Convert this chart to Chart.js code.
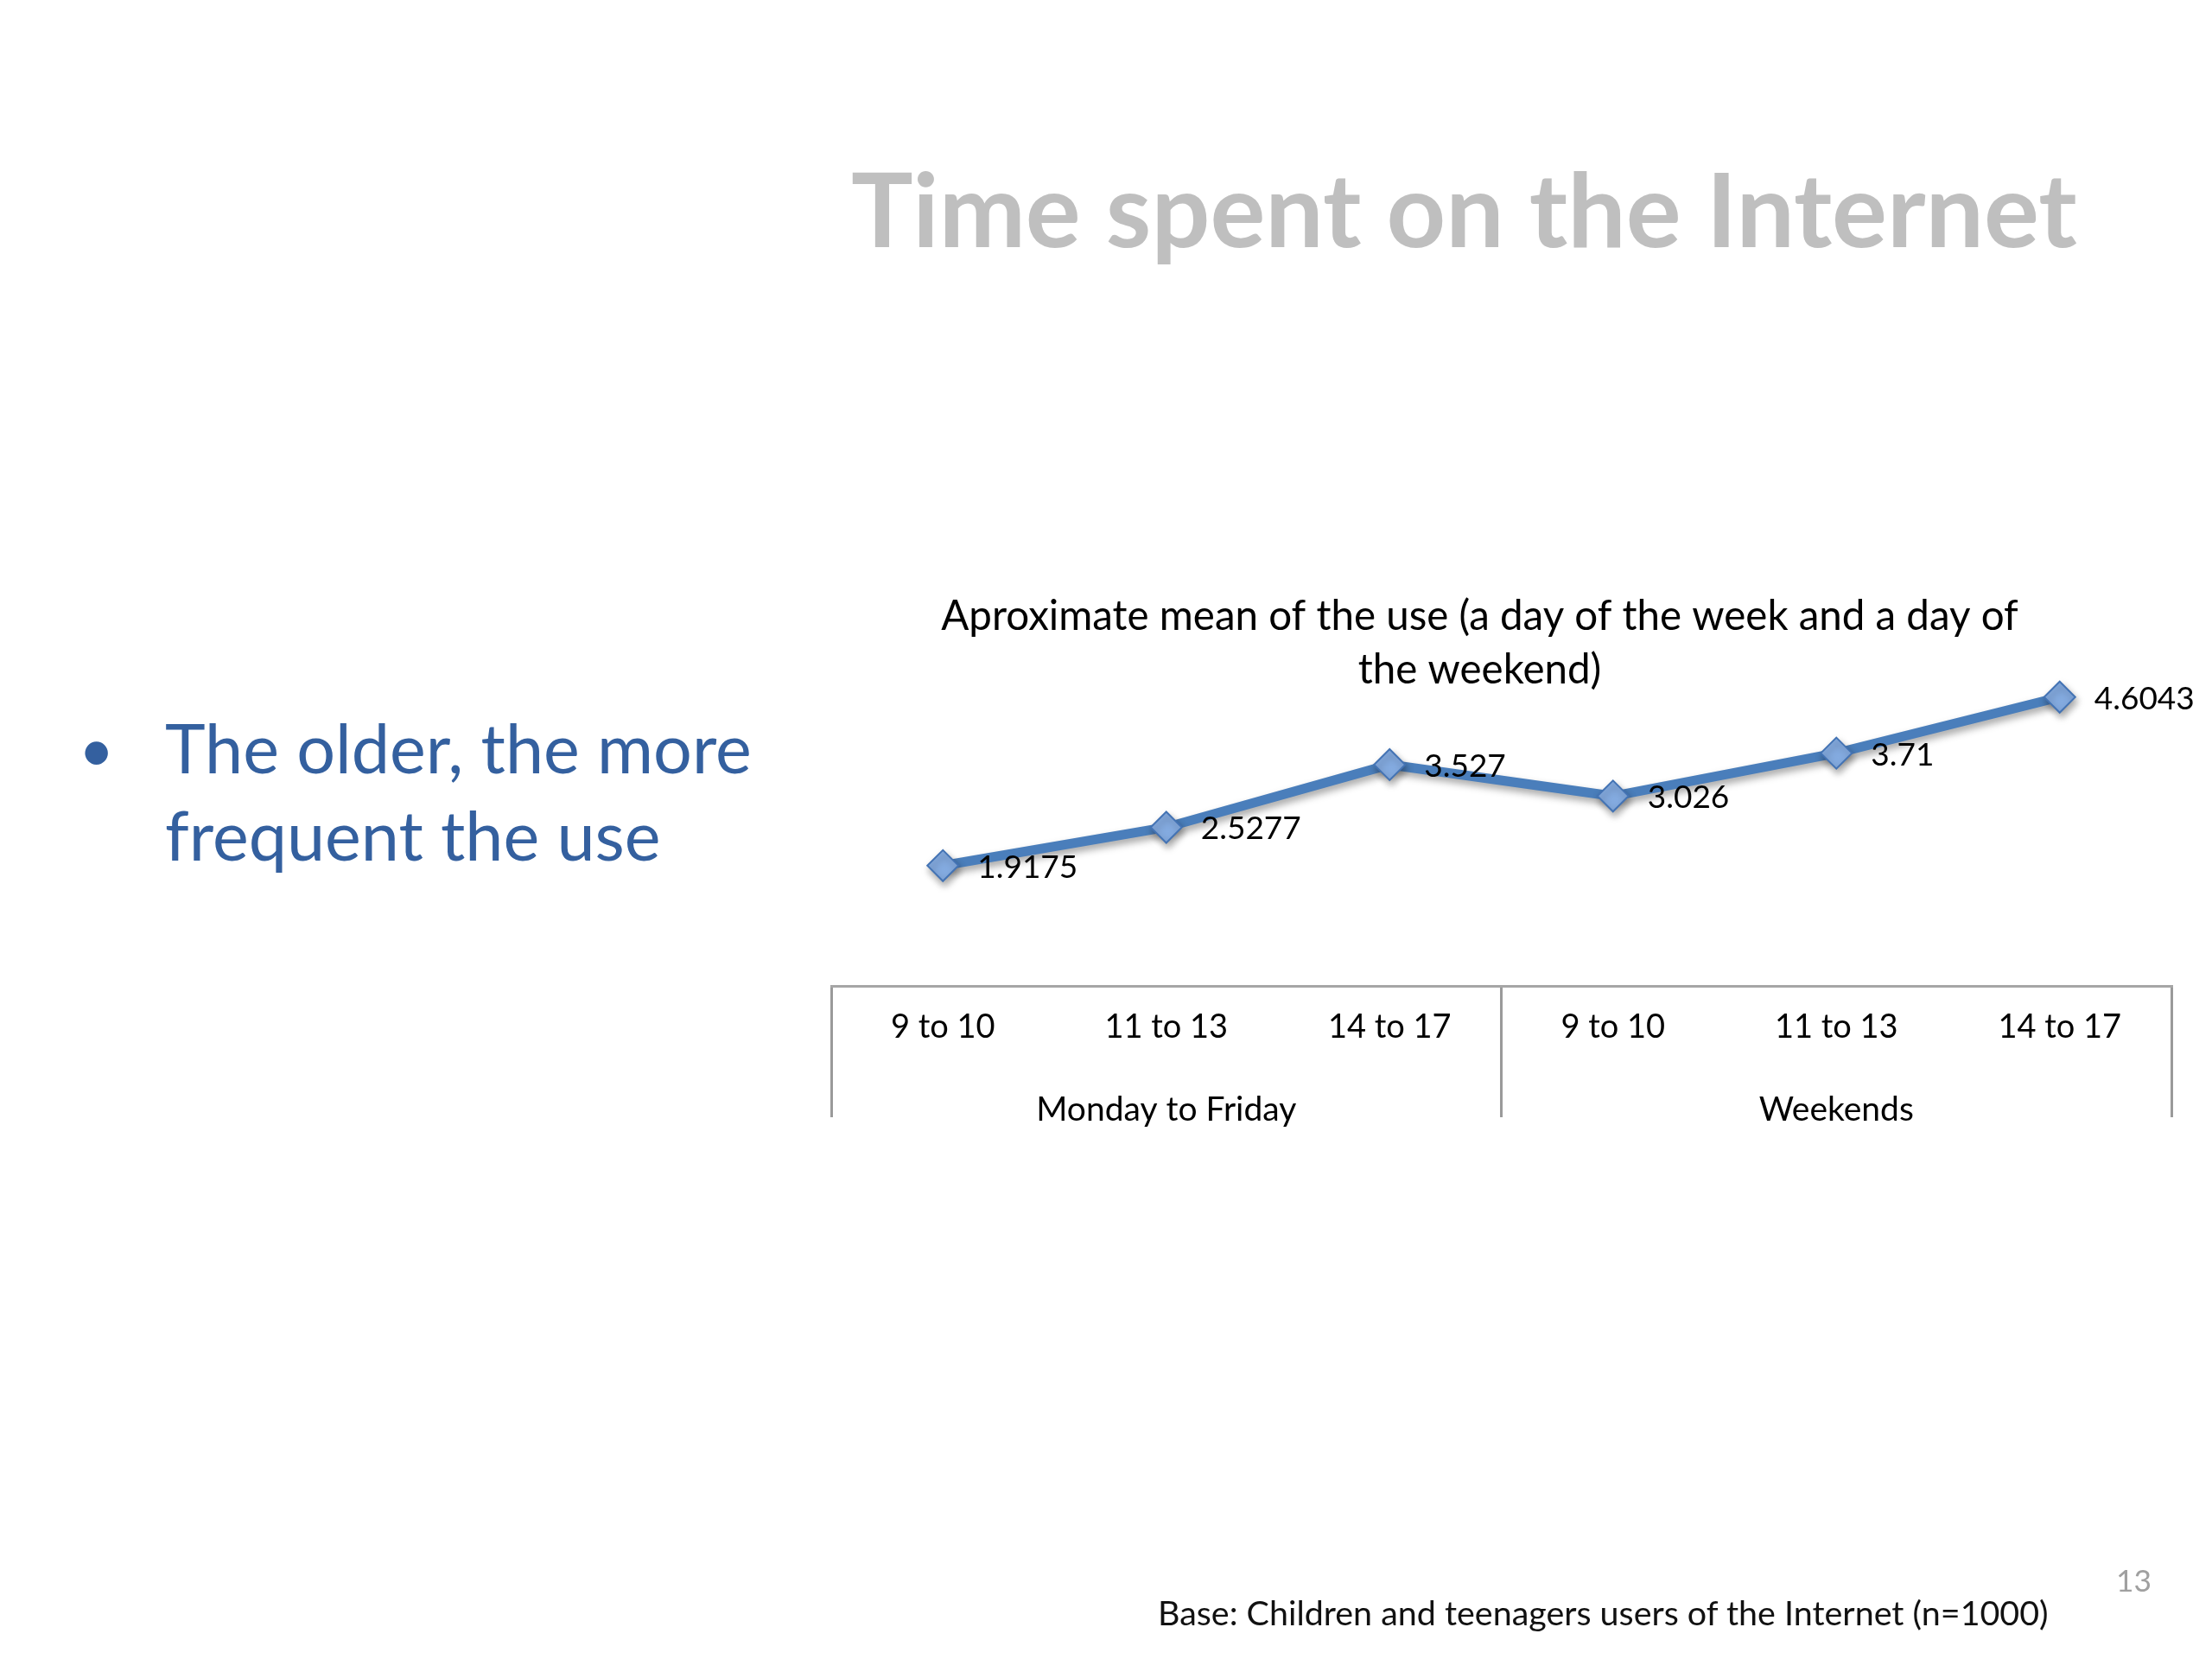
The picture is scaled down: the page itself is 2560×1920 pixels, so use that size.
<!DOCTYPE html>
<html>
<head>
<meta charset="utf-8">
<script src="https://cdn.jsdelivr.net/npm/chart.js@4/dist/chart.umd.min.js"></script>
<style>
  html, body { margin: 0; padding: 0; background: #fff; }
  body { width: 2560px; height: 1920px; overflow: hidden; position: relative; font-family: Lato, "Open Sans", sans-serif; }
  #chart { position: absolute; left: 0; top: 0; }
  .txt { position: absolute; white-space: nowrap; line-height: 1.2; }
  .bl { display: inline-block; width: 0; height: 0; vertical-align: baseline; }
  #slideTitle { color: #bfbfbf; font-weight: 700; }
  .bullet { color: #34609f; }
  #footer { color: #111; }
  #pageNo { color: #a0a0a0; }
</style>
</head>
<body>
<canvas id="chart" width="2560" height="1920"></canvas>

<div class="txt" id="slideTitle">Time spent on the Internet<span class="bl"></span></div>
<div class="txt bullet" id="bulletDot">•<span class="bl"></span></div>
<div class="txt bullet" id="bullet1">The older, the more<span class="bl"></span></div>
<div class="txt bullet" id="bullet2">frequent the use<span class="bl"></span></div>
<div class="txt" id="footer">Base: Children and teenagers users of the Internet (n=1000)<span class="bl"></span></div>
<div class="txt" id="pageNo">13<span class="bl"></span></div>

<script>
// chart data
const ageGroups = ['9 to 10', '11 to 13', '14 to 17', '9 to 10', '11 to 13', '14 to 17'];
const dayGroups = ['Monday to Friday', 'Weekends'];
const meanUse = [1.9175, 2.5277, 3.527, 3.026, 3.71, 4.6043];
const chartTitle = ['Aproximate mean of the use (a day of the week and a day of', 'the weekend)'];

const axisGray = '#a6a6a6';

// put an html text line at a given left / baseline, sized to a width
function place(id, left, baseline, width, size) {
  const el = document.getElementById(id);
  el.style.left = left + 'px';
  el.style.top = '0px';
  if (width) {
    el.style.fontSize = '100px';
    const w = el.getBoundingClientRect().width;
    size = 100 * width / w;
  }
  el.style.fontSize = size + 'px';
  const b = el.querySelector('.bl').getBoundingClientRect().top - el.getBoundingClientRect().top;
  el.style.top = (baseline - b) + 'px';
  return size;
}

function layoutText() {
  place('slideTitle', 985, 286, 1419);
  const s = place('bullet1', 191, 895, 679);
  place('bullet2', 191, 996, 0, s);
  place('bulletDot', 91, 893, 0, s * 0.9);
  place('footer', 1340, 1881, 1031);
  place('pageNo', 2449, 1842, 41);
}

// value labels right of each marker + soft shadow under the line
const lineDecor = {
  id: 'lineDecor',
  beforeDatasetsDraw(chart) {
    const ctx = chart.ctx;
    ctx.save();
    ctx.shadowColor = 'rgba(0,0,0,0.35)';
    ctx.shadowBlur = 8;
    ctx.shadowOffsetX = 2;
    ctx.shadowOffsetY = 5;
  },
  afterDatasetsDraw(chart) {
    const ctx = chart.ctx;
    ctx.restore();
    const meta = chart.getDatasetMeta(0);
    ctx.save();
    ctx.font = '37px Lato';
    ctx.fillStyle = '#000';
    ctx.textAlign = 'left';
    ctx.textBaseline = 'middle';
    meta.data.forEach((pt, i) => {
      ctx.fillText(String(meanUse[i]), pt.x + 40, pt.y + 2);
    });
    ctx.restore();
  }
};

function groupLine(c) {
  // only the outer edges and the split between the two day groups
  return (c.index === undefined || c.index % 3 === 0) ? '#9a9a9a' : 'rgba(0,0,0,0)';
}

function renderChart() {
  const ctx = document.getElementById('chart');

  new Chart(ctx, {
    type: 'line',
    data: {
      labels: ageGroups,
      datasets: [
        {
          label: 'Mean use',
          data: meanUse,
          borderColor: '#4a7ebb',
          borderWidth: 11,
          tension: 0,
          fill: false,
          pointStyle: 'rectRot',
          pointRadius: 18,
          pointBackgroundColor: '#84abe0',
          pointBorderColor: '#4373b4',
          pointBorderWidth: 2,
        },
      ],
    },
    options: {
      responsive: false,
      animation: false,
      devicePixelRatio: 1,
      layout: {
        padding: { left: 912, right: 47, top: 683, bottom: 609 },
      },
      plugins: {
        legend: { display: false },
        tooltip: { enabled: false },
        title: {
          display: true,
          text: chartTitle,
          color: '#000',
          font: { family: 'Lato', size: 47.5, weight: 'normal', lineHeight: 1.3 },
          padding: { top: 0, bottom: -28.5 },
        },
      },
      scales: {
        y: {
          // hidden; only keeps a small gutter so the title sits a bit left
          display: true,
          min: 0,
          max: 5,
          grid: { display: false },
          border: { display: false },
          ticks: { display: false },
          afterFit: (s) => { s.width = 50; },
        },
        x: {
          offset: true,
          weight: 0,
          grid: {
            display: true,
            offset: true,
            drawOnChartArea: false,
            drawTicks: true,
            tickLength: 152,
            color: groupLine,
            tickColor: groupLine,
            lineWidth: 3,
            tickWidth: 3,
          },
          border: { display: true, color: axisGray, width: 3 },
          ticks: {
            color: '#000',
            font: { family: 'Lato', size: 38 },
            padding: -127,
            maxRotation: 0,
            autoSkip: false,
          },
          afterFit: (s) => { s.height = 100; },
        },
        x2: {
          type: 'category',
          labels: dayGroups,
          position: 'bottom',
          offset: true,
          weight: 1,
          grid: { display: false },
          border: { display: false },
          ticks: {
            color: '#000',
            font: { family: 'Lato', size: 39 },
            padding: 12,
            maxRotation: 0,
            autoSkip: false,
          },
          afterFit: (s) => { s.height = 70; },
        },
      },
    },
    plugins: [lineDecor],
  });
}

Promise.all([
  document.fonts.load('38px Lato'),
  document.fonts.load('bold 100px Lato'),
]).catch(() => {}).then(() => {
  layoutText();
  renderChart();
});
</script>
</body>
</html>
